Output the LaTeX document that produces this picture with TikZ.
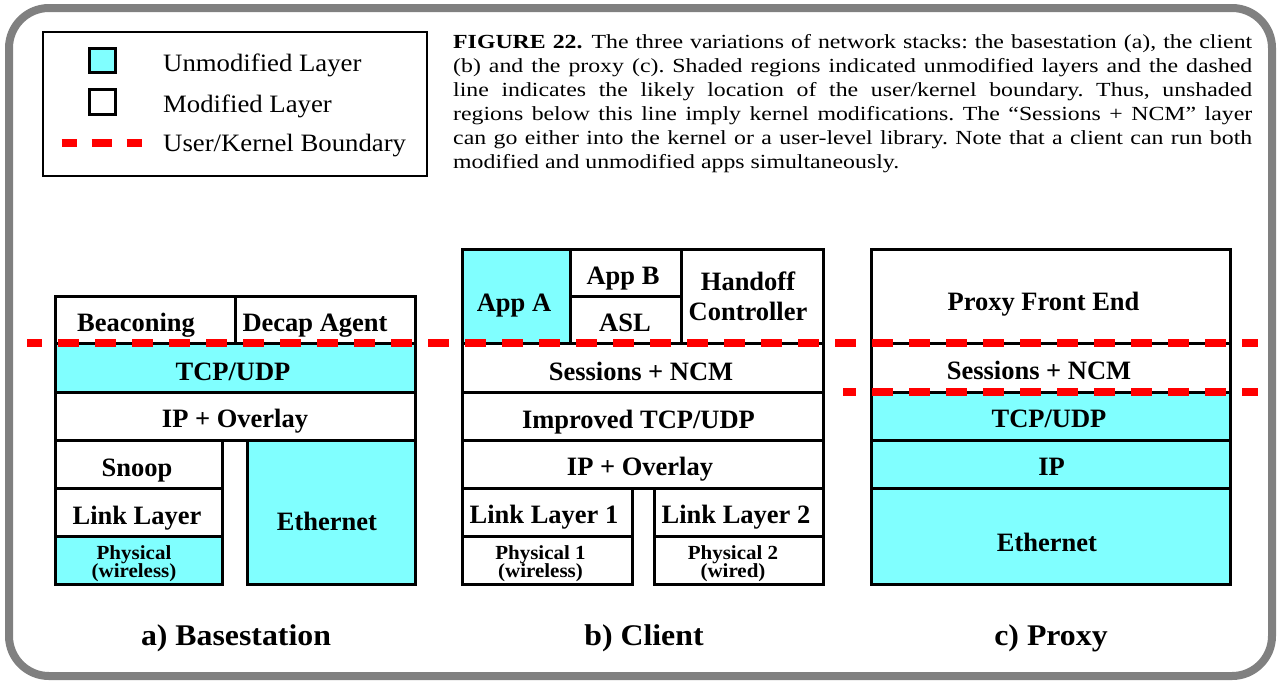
\documentclass[tikz,border=0pt]{standalone}
\usepackage{fontspec}
\setmainfont{Liberation Serif}
\newfontfamily\capfont[FakeStretch=1.19]{Liberation Serif}
\newfontfamily\legfont[FakeStretch=1.07]{Liberation Serif}
\newfontfamily\subfont[FakeStretch=1.06]{Liberation Serif}
\newfontfamily\physfont[FakeStretch=1.05]{Liberation Serif}
\newcommand\tightlines{\lineskiplimit=-100pt\relax}
\definecolor{unmodcyan}{RGB}{128,255,255}
\definecolor{framegray}{RGB}{128,128,128}
\tikzset{
  layerbox/.style={draw=black, line width=3pt, fill=white},
  unmodbox/.style={layerbox, fill=unmodcyan},
  lbl/.style={font=\bfseries\fontsize{26.5}{30}\selectfont, anchor=base, inner sep=0pt},
  twolbl/.style={anchor=base, inner sep=0pt, align=center, font=\bfseries\fontsize{26.5}{30}\selectfont\tightlines},
  smalllbl/.style={anchor=base, inner sep=0pt, align=center,
    font=\physfont\bfseries\fontsize{20}{17.5}\selectfont\tightlines},
  sublbl/.style={font=\subfont\bfseries\fontsize{30}{36}\selectfont, anchor=base, inner sep=0pt},
  legtext/.style={font=\legfont\fontsize{25}{30}\selectfont, anchor=base west, inner sep=0pt},
  kernelline/.style={draw=red, line width=8pt, dash pattern=on 21pt off 16pt},
}
\begin{document}
\begin{tikzpicture}[x=1pt, y=-1pt]
\useasboundingbox (0,0) rectangle (1280,683);
\fill[white] (0,0) rectangle (1280,683);

% outer frame
\draw[line width=8pt, draw=framegray, rounded corners=40pt] (9,8) rectangle (1272,676);

% legend
\draw[line width=2pt] (43,32) rectangle (427,176);
\draw[unmodbox] (89,48) rectangle (115,72);
\draw[layerbox] (89,89) rectangle (115,114);
\draw[draw=red, line width=8pt, dash pattern=on 15pt off 15pt on 20pt off 15pt on 15pt off 100pt]
  (61.7,143) -- (141.7,143);
\node[legtext] (lunmod) at (163,71.7) {Unmodified Layer};
\node[legtext] (lmod) at (163,112.7) {Modified Layer};
\node[legtext] (lbound) at (163,151.7) {User/Kernel Boundary};

% caption
\node[anchor=base west, inner sep=0pt, text width=799pt, align=justify,
      font=\capfont\fontsize{20}{24}\selectfont\frenchspacing] (caption) at (453,48.5)
{\textbf{FIGURE 22.}\hspace{0.45em}The three variations of network stacks: the basestation (a), the client\linebreak
(b) and the proxy (c). Shaded regions indicated unmodified layers and the dashed\linebreak
line indicates the likely location of the user/kernel boundary. Thus, unshaded\linebreak
regions below this line imply kernel modifications. The “Sessions + NCM” layer\linebreak
can go either into the kernel or a user-level library. Note that a client can run both\linebreak
modified and unmodified apps simultaneously.};

% a) basestation stack
\draw[layerbox] (55,296) rectangle (235,343);
\draw[layerbox] (235,296) rectangle (415,343);
\draw[unmodbox] (55,343) rectangle (415,392);
\draw[layerbox] (55,392) rectangle (415,440);
\draw[layerbox] (55,440) rectangle (222,488);
\draw[layerbox] (55,488) rectangle (222,536);
\draw[unmodbox] (55,536) rectangle (222,584);
\draw[unmodbox] (247,440) rectangle (415,584);
\node[lbl] (bbeacon) at (136,331.7) {Beaconing};
\node[lbl] (bdecap) at (315,331.7) {Decap Agent};
\node[lbl] (btcp) at (233,380) {TCP/UDP};
\node[lbl] (bip) at (235,427.7) {IP + Overlay};
\node[lbl] (bsnoop) at (137,476.5) {Snoop};
\node[lbl] (blink) at (137,524) {Link Layer};
\node[smalllbl] (bphy) at (134,577) {Physical\\(wireless)};
\node[lbl] (beth) at (327,530) {Ethernet};

% b) client stack
\draw[unmodbox] (462,249) rectangle (570,343);
\draw[layerbox] (570,249) rectangle (681,296);
\draw[layerbox] (570,296) rectangle (681,343);
\draw[layerbox] (681,249) rectangle (823,343);
\draw[layerbox] (462,343) rectangle (823,392);
\draw[layerbox] (462,392) rectangle (823,440);
\draw[layerbox] (462,440) rectangle (823,488);
\draw[layerbox] (462,488) rectangle (632,536);
\draw[layerbox] (462,536) rectangle (632,584);
\draw[layerbox] (654,488) rectangle (823,536);
\draw[layerbox] (654,536) rectangle (823,584);
\node[lbl] (capa) at (514,311) {App A};
\node[lbl] (capb) at (623,284) {App B};
\node[lbl] (casl) at (625,331.7) {ASL};
\node[twolbl] (cho) at (748,320) {Handoff\\Controller};
\node[lbl] (csess) at (641,380) {Sessions + NCM};
\node[lbl] (ctcp) at (638.5,428.3) {Improved TCP/UDP};
\node[lbl] (cip) at (640,475.7) {IP + Overlay};
\node[lbl] (cll1) at (544,523.3) {Link Layer 1};
\node[lbl] (cll2) at (736,523.3) {Link Layer 2};
\node[smalllbl] (cph1) at (540.5,577) {Physical 1\\(wireless)};
\node[smalllbl] (cph2) at (733,577) {Physical 2\\(wired)};

% c) proxy stack
\draw[layerbox] (871,249) rectangle (1230,343);
\draw[layerbox] (871,343) rectangle (1230,392);
\draw[unmodbox] (871,392) rectangle (1230,440);
\draw[unmodbox] (871,440) rectangle (1230,488);
\draw[unmodbox] (871,488) rectangle (1230,584);
\node[lbl] (pfront) at (1043.5,310.7) {Proxy Front End};
\node[lbl] (psess) at (1039,379.3) {Sessions + NCM};
\node[lbl] (ptcp) at (1049,427.3) {TCP/UDP};
\node[lbl] (pip) at (1051.5,475) {IP};
\node[lbl] (peth) at (1047,551) {Ethernet};

% user/kernel boundaries
\draw[kernelline, dash phase=5.7pt] (27,343) -- (1258,343);
\draw[kernelline, dash phase=7.7pt] (843,392) -- (1258,392);

% stack titles
\node[sublbl] (ta) at (236,645) {a) Basestation};
\node[sublbl] (tb) at (644,645) {b) Client};
\node[sublbl] (tc) at (1051,645) {c) Proxy};
\end{tikzpicture}
\end{document}
